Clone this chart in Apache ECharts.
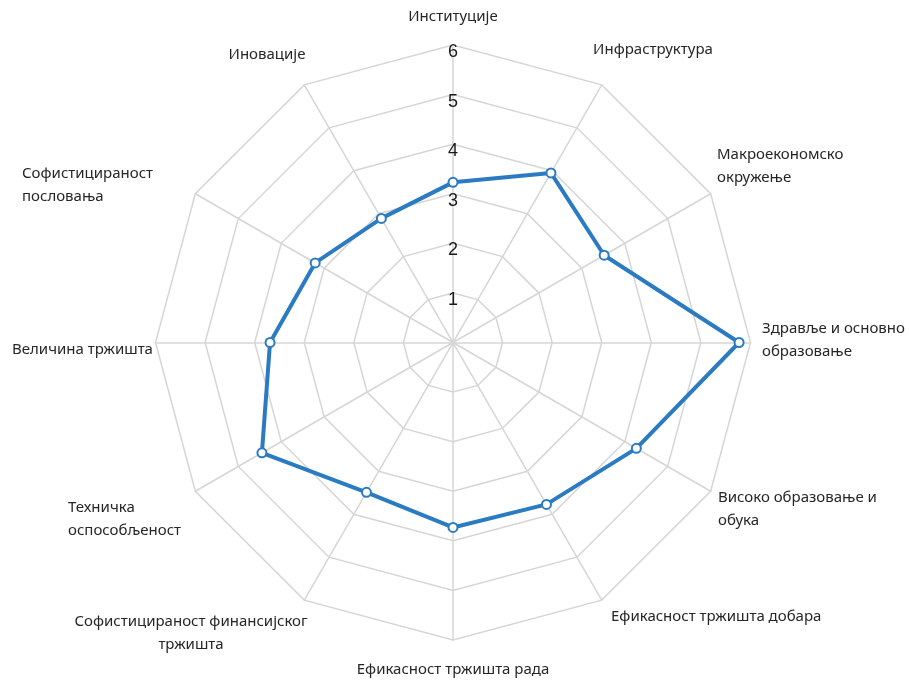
<!DOCTYPE html>
<html>
<head>
<meta charset="utf-8">
<script src="https://cdn.jsdelivr.net/npm/echarts@6/dist/echarts.min.js"></script>
<style>
  html, body { margin: 0; padding: 0; background: #fff; }
  #chart { width: 909px; height: 682px; }
</style>
</head>
<body>
<div id="chart"></div>
<script>
// indicators, clockwise from the top
const categories = [
  'Институције',
  'Инфраструктура',
  'Макроекономско\nокружење',
  'Здравље и основно\nобразовање',
  'Високо образовање и\nобука',
  'Ефикасност тржишта добара',
  'Ефикасност тржишта рада',
  'Софистицираност финансијског\nтржишта',
  'Техничка\nоспособљеност',
  'Величина тржишта',
  'Софистицираност\nпословања',
  'Иновације'
]
const values = [3.23, 3.95, 3.52, 5.77, 4.27, 3.77, 3.73, 3.49, 4.45, 3.69, 3.21, 2.89]
const axisMax = 6
const tickLabels = ['1', '2', '3', '4', '5', '6']

const CX = 453, CY = 342.5, R = 297.5
const BLUE = '#2b7bc2'
const LINE_H = 23

// where each name should sit: [align, x (left edge or centre), y centre]
const namePos = [
  ['center', 453, 17],
  ['center', 653, 50],
  ['left', 717, 166],
  ['left', 762, 340],
  ['left', 718, 509],
  ['left', 611, 617],
  ['center', 453, 670],
  ['center', 191, 633],
  ['left', 68, 519],
  ['left', 12, 350],
  ['left', 22, 185],
  ['center', 267, 55]
]

const placeName = (i) => {
  const [align, tx, ty] = namePos[i]
  const h = categories[i].split('\n').length * LINE_H
  const a = i * Math.PI / 6
  const dx = Math.sin(a), dy = -Math.cos(a)
  const vx = CX + R * dx, vy = CY + R * dy
  let gap = 0
  if (align === 'left' && tx < vx) gap = (vx - tx) / -dx
  const ax = vx + gap * dx, ay = vy + gap * dy
  const sx = tx - ax
  let pl, pr
  if (align === 'left') { pl = sx; pr = 0 }
  else { pl = sx > 0 ? 2 * sx : 0; pr = sx < 0 ? -2 * sx : 0 }
  let verticalAlign, pt = 0, pb = 0
  const top = ty - h / 2 - ay
  if (top >= 0) { verticalAlign = 'top'; pt = top }
  else if (ay - (ty + h / 2) >= 0) { verticalAlign = 'bottom'; pb = ay - (ty + h / 2) }
  else { verticalAlign = 'top'; pt = top }
  return {
    nameGap: gap,
    nameMoveOverlap: false,
    nameTextStyle: { align, verticalAlign, padding: [pt, pr, pb, pl] }
  }
}

// echarts lays indicators out counter-clockwise, so walk the list backwards
const order = categories.map((_, i) => (categories.length - i) % categories.length)

const indicator = order.map((i) => {
  const ind = Object.assign({ name: categories[i], max: axisMax, min: 0 }, placeName(i))
  if (i === 0) {
    ind.axisLabel = {
      show: true,
      margin: 0,
      align: 'center',
      verticalAlign: 'top',
      lineHeight: 14,
      fontFamily: 'Liberation Sans',
      fontSize: 18,
      color: '#1a1a1a',
      formatter: (v) => (v > 0 ? tickLabels[v - 1] : '')
    }
  }
  return ind
})

const chart = echarts.init(document.getElementById('chart'))
chart.setOption({
  backgroundColor: '#fff',
  animation: false,
  radar: {
    center: [CX, CY],
    radius: R,
    startAngle: 90,
    shape: 'polygon',
    splitNumber: 6,
    indicator,
    axisName: {
      color: '#262626',
      fontFamily: 'Noto Sans',
      fontSize: 15,
      lineHeight: LINE_H
    },
    axisLine: { lineStyle: { color: '#d6d6d6', width: 1.5 } },
    splitLine: { lineStyle: { color: '#d6d6d6', width: 1.5 } },
    splitArea: { show: false },
    axisTick: { show: false }
  },
  series: [
    {
      type: 'radar',
      symbol: 'circle',
      symbolSize: 9,
      lineStyle: { color: BLUE, width: 4 },
      itemStyle: { color: '#fff', borderColor: BLUE, borderWidth: 2 },
      data: [{ value: order.map((i) => values[i]) }]
    }
  ]
})
</script>
</body>
</html>
